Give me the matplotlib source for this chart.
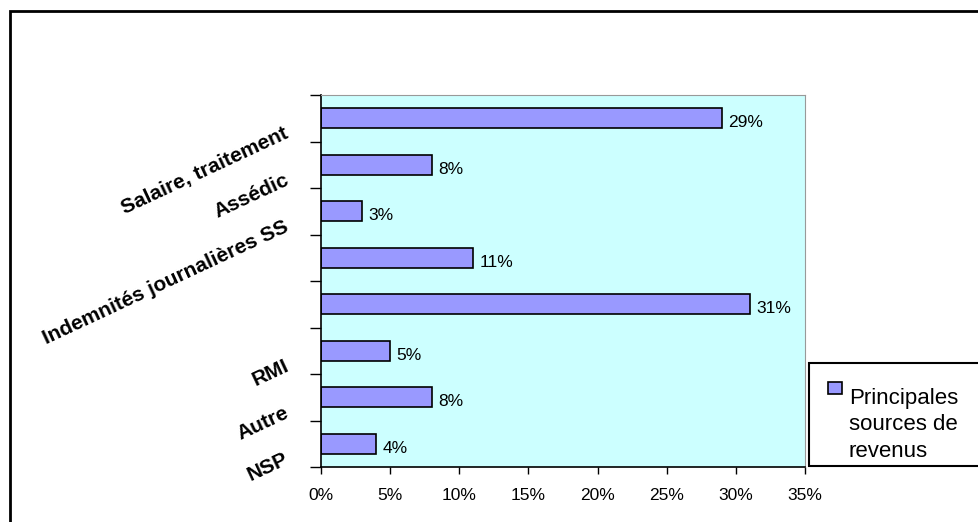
import matplotlib.pyplot as plt
from matplotlib.patches import Rectangle
from matplotlib.ticker import FuncFormatter

plt.rcParams['font.family'] = ['Liberation Sans', 'DejaVu Sans']

categories = ["Salaire, traitement", "Assédic", "Indemnités journalières SS",
              "", "", "RMI", "Autre", "NSP"]
values = [29, 8, 3, 11, 31, 5, 8, 4]
xticks = [0, 5, 10, 15, 20, 25, 30, 35]
series_name = ["Principales", "sources de", "revenus"]
bar_color = '#9999FF'

W, H = 979, 522
fig = plt.figure(figsize=(W / 100, H / 100), dpi=100)

# outer chart frame (runs off the right and bottom edges)
fig.patches.append(Rectangle((10 / W, -0.2), 2, 1.2 - 11 / H,
                             transform=fig.transFigure, fill=False,
                             edgecolor='black', linewidth=2, zorder=0))

ax = fig.add_axes([321 / W, 1 - 467 / H, 484 / W, 372 / H])
ax.set_facecolor('#CCFFFF')

pos = list(range(len(categories)))
ax.barh(pos, values, height=0.43, color=bar_color,
        edgecolor='black', linewidth=1.2)
for y, v in zip(pos, values):
    ax.text(v + 0.45, y + 0.1, f"{v}%", va='center', ha='left', fontsize=12.5)

ax.set_xlim(0, 35)
ax.set_ylim(len(categories) - 0.5, -0.5)
ax.set_xticks(xticks)
ax.xaxis.set_major_formatter(FuncFormatter(lambda x, p: f"{x:.0f}%"))
ax.tick_params(axis='x', length=5, width=1, labelsize=12.5, pad=10)

# ticks at category boundaries, labels drawn separately
ax.set_yticks([i - 0.5 for i in range(len(categories) + 1)])
ax.set_yticklabels([])
ax.tick_params(axis='y', length=8, width=1)

for y, lab in zip(pos, categories):
    ax.annotate(lab, xy=(0, y), xycoords=('axes fraction', 'data'),
                xytext=(-27, -4), textcoords='offset points',
                ha='right', va='top', rotation=25, rotation_mode='anchor',
                fontsize=15, fontweight='bold')

for s in ['top', 'right']:
    ax.spines[s].set_color('#999999')
for s in ['left', 'bottom']:
    ax.spines[s].set_linewidth(1.2)

# legend box, cut off at the right edge
fig.patches.append(Rectangle((809 / W, 1 - 466 / H), 1, 103 / H,
                             transform=fig.transFigure, facecolor='white',
                             edgecolor='black', linewidth=1.5, zorder=3))
fig.patches.append(Rectangle((828 / W, 1 - 394 / H), 14 / W, 12 / H,
                             transform=fig.transFigure, facecolor=bar_color,
                             edgecolor='black', linewidth=1.2, zorder=4))
for i, line in enumerate(series_name):
    fig.text(849 / W, 1 - (404 + 26.5 * i) / H, line, ha='left',
             va='baseline', fontsize=16, zorder=5)

fig.savefig('out.png', dpi=100)
